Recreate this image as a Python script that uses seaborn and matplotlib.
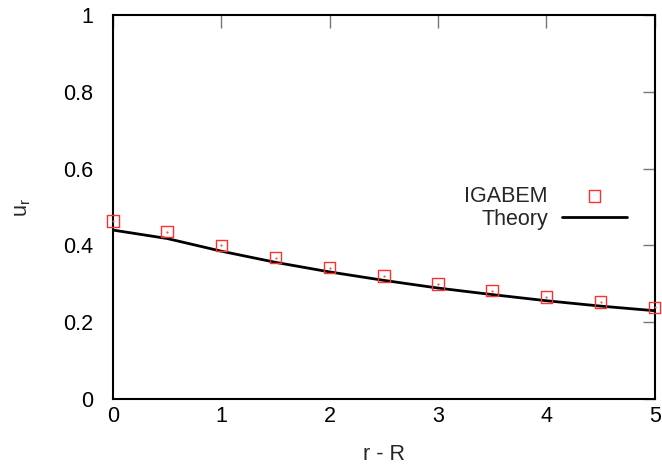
import numpy as np
import pandas as pd
import seaborn as sns
import matplotlib
matplotlib.use("Agg")
import matplotlib.pyplot as plt

# data
r_minus_R = [0, 0.5, 1, 1.5, 2, 2.5, 3, 3.5, 4, 4.5, 5]
u_igabem = [0.464, 0.436, 0.400, 0.368, 0.342, 0.320, 0.300, 0.282, 0.266, 0.253, 0.239]
u_theory = [0.440, 0.418, 0.385, 0.356, 0.331, 0.309, 0.289, 0.272, 0.256, 0.242, 0.230]

df = pd.DataFrame({"x": r_minus_R, "igabem": u_igabem, "theory": u_theory})

sns.set_theme(style="white")
plt.rcParams["font.family"] = ["Liberation Sans", "DejaVu Sans"]
plt.rcParams["mathtext.fontset"] = "custom"
plt.rcParams["mathtext.rm"] = "Liberation Sans"

fs = 15.5
fig = plt.figure(figsize=(6.62, 4.70), dpi=100)
ax = fig.add_axes([0.1707, 0.151, 0.8183, 0.817])

sns.scatterplot(data=df, x="x", y="igabem", ax=ax, marker="s", s=68,
                facecolor="none", edgecolor="#ff3030", linewidth=1.0,
                label="IGABEM", zorder=3, clip_on=False)
# tiny centre dot like gnuplot point type
ax.scatter(df["x"], df["igabem"], s=2.5, color="#ff5050", linewidths=0,
           zorder=3, clip_on=False)
sns.lineplot(data=df, x="x", y="theory", ax=ax, color="black", linewidth=2.0,
             label="Theory", zorder=2)

ax.set_xlim(0, 5)
ax.set_ylim(0, 1)
ax.set_xticks([0, 1, 2, 3, 4, 5])
ax.set_yticks([0, 0.2, 0.4, 0.6, 0.8, 1])
ax.set_yticklabels(["0", "0.2", "0.4", "0.6", "0.8", "1"])
ax.tick_params(direction="in", length=9, width=1, color="#777777",
               labelsize=fs, top=True, right=True, labelcolor="black")
ax.tick_params(axis="y", pad=14)
ax.tick_params(axis="x", pad=5)
ax.set_xlabel("r - R", fontsize=fs, labelpad=12)
ax.set_ylabel(r"u$_\mathregular{r}$", fontsize=fs, labelpad=22)
for sp in ax.spines.values():
    sp.set_color("black")
    sp.set_linewidth(1.5)

leg = ax.legend(loc="center right", bbox_to_anchor=(0.948, 0.498), frameon=False,
                markerfirst=False, fontsize=fs, handlelength=3.0,
                labelspacing=0.1, handletextpad=0.65, borderpad=0,
                borderaxespad=0)

fig.savefig("out.png", dpi=100)
